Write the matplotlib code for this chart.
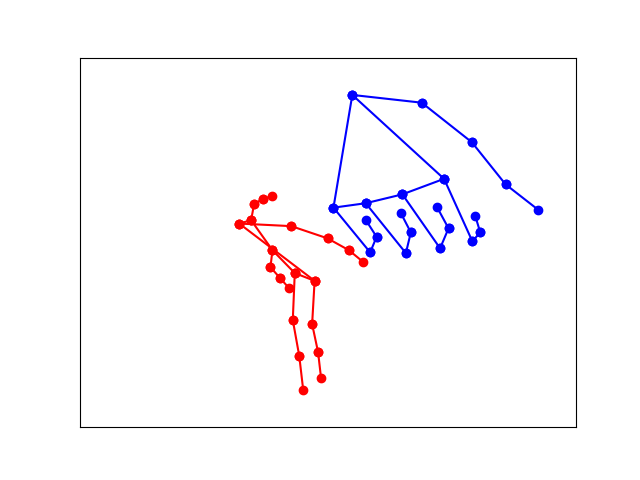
import matplotlib
matplotlib.use("Agg")
import matplotlib.pyplot as plt

# Соединения точек кисти (21 точка)
connections = [
    (0, 1), (1, 2), (2, 3), (3, 4),
    (0, 5), (5, 6), (6, 7), (7, 8),
    (5, 9), (9, 10), (10, 11), (11, 12),
    (9, 13), (13, 14), (14, 15), (15, 16),
    (13, 17), (0, 17), (17, 18), (18, 19), (19, 20),
]

# Первая кисть (синяя), нормированные координаты
hand1_x = [0.549, 0.689, 0.790, 0.858, 0.924,
           0.511, 0.585, 0.598, 0.576,
           0.576, 0.657, 0.667, 0.647,
           0.650, 0.726, 0.743, 0.720,
           0.734, 0.791, 0.807, 0.797]
hand1_y = [0.101, 0.122, 0.229, 0.343, 0.412,
           0.406, 0.527, 0.485, 0.439,
           0.394, 0.529, 0.473, 0.421,
           0.370, 0.516, 0.462, 0.405,
           0.328, 0.497, 0.473, 0.429]

# Вторая кисть (красная)
hand2_x = [0.321, 0.426, 0.499, 0.542, 0.571,
           0.345, 0.351, 0.368, 0.388,
           0.388, 0.384, 0.403, 0.421,
           0.433, 0.429, 0.442, 0.450,
           0.473, 0.468, 0.480, 0.486]
hand2_y = [0.449, 0.456, 0.489, 0.521, 0.553,
           0.440, 0.396, 0.383, 0.374,
           0.521, 0.567, 0.596, 0.623,
           0.583, 0.710, 0.807, 0.899,
           0.604, 0.721, 0.797, 0.867]

plt.figure(figsize=(6.4, 4.8), dpi=100)

for xs, ys, color in [(hand1_x, hand1_y, "blue"), (hand2_x, hand2_y, "red")]:
    for a, b in connections:
        plt.plot([xs[a], xs[b]], [ys[a], ys[b]], color=color, marker="o")

plt.xlim(0, 1)
plt.ylim(1, 0)
plt.xticks([])
plt.yticks([])

plt.savefig("out.png")
